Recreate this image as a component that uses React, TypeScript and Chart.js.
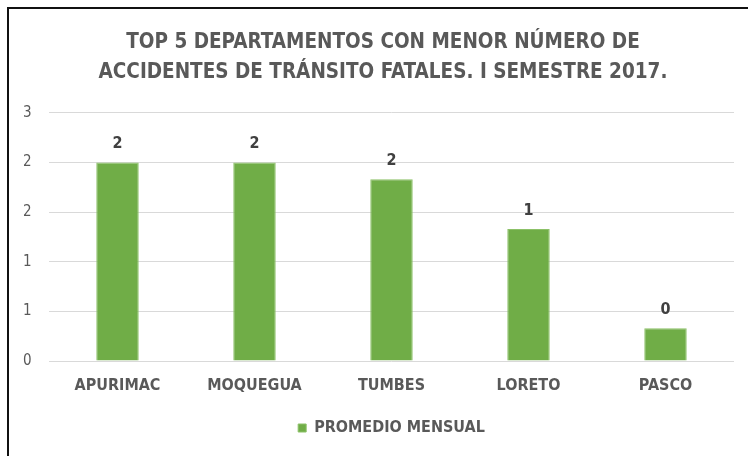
import React, { useEffect, useRef } from "react";
import { Chart, registerables } from "chart.js";

Chart.register(...registerables);

const categories = ["APURIMAC", "MOQUEGUA", "TUMBES", "LORETO", "PASCO"];
const promedioMensual = [2.0, 2.0, 1.83, 1.33, 0.33];
const seriesName = "PROMEDIO MENSUAL";
const titleLines = [
  "TOP 5 DEPARTAMENTOS CON MENOR NÚMERO DE",
  "ACCIDENTES DE TRÁNSITO FATALES. I SEMESTRE 2017.",
];

const FONT = "'Liberation Sans Narrow', 'DejaVu Sans Condensed', 'Liberation Sans', sans-serif";
const GRAY = "#595959";

const frame = {
  id: "frame",
  beforeDraw(chart: any) {
    const ctx = chart.ctx;
    ctx.save();
    ctx.fillStyle = "#ffffff";
    ctx.fillRect(0, 0, chart.width, chart.height);
    ctx.fillStyle = "#111111";
    ctx.fillRect(7, 7, 2, chart.height - 7);
    ctx.fillRect(7, 7, chart.width - 7, 2);
    ctx.restore();
  },
};

const legendShift = {
  id: "legendShift",
  afterLayout(chart: any) {
    const lg = chart.legend;
    if (lg) {
      const ca = chart.chartArea;
      const shift = (ca.left + ca.right) / 2 - (lg.left + lg.right) / 2;
      lg.left += shift;
      lg.right += shift;
    }
  },
};

const valueLabels = {
  id: "valueLabels",
  afterDatasetsDraw(chart: any) {
    const ctx = chart.ctx;
    const meta = chart.getDatasetMeta(0);
    const data = chart.data.datasets[0].data as number[];
    ctx.save();
    ctx.font = `bold 16px ${FONT}`;
    ctx.fillStyle = "#404040";
    ctx.textAlign = "center";
    ctx.textBaseline = "alphabetic";
    meta.data.forEach((bar: any, i: number) => {
      ctx.fillText(String(Math.round(data[i])), bar.x, bar.y - 14);
    });
    ctx.restore();
  },
};

export default function App() {
  const ref = useRef<HTMLCanvasElement | null>(null);
  useEffect(() => {
    if (!ref.current) return;
    const chart = new Chart(ref.current, {
      type: "bar",
      data: {
        labels: categories,
        datasets: [
          {
            label: seriesName,
            data: promedioMensual,
            backgroundColor: "#70AD47",
            borderColor: "#8CC168",
            borderWidth: 1,
            categoryPercentage: 1,
            barPercentage: 0.31,
          },
        ],
      },
      options: {
        responsive: false,
        animation: false,
        devicePixelRatio: 1,
        layout: { padding: { left: 32, right: 14, top: 8, bottom: 10 } },
        plugins: {
          title: {
            display: true,
            text: titleLines,
            color: GRAY,
            font: { family: FONT, size: 20.5, weight: "bold", lineHeight: 1.46 },
            padding: { top: 20, bottom: 25 },
          },
          legend: {
            display: true,
            position: "bottom",
            labels: {
              color: GRAY,
              font: { family: FONT, size: 16, weight: "bold" },
              boxWidth: 8,
              boxHeight: 8,
              padding: 10,
            },
          },
          tooltip: { enabled: false },
        },
        scales: {
          x: {
            grid: { display: false },
            border: { display: false },
            ticks: {
              color: GRAY,
              font: { family: FONT, size: 16, weight: "bold" },
              padding: 7,
            },
            afterFit(scale: any) {
              scale.height = 49;
            },
          },
          y: {
            min: 0,
            max: 2.5,
            grid: { color: "#D9D9D9", drawTicks: false },
            border: { display: false },
            ticks: {
              stepSize: 0.5,
              color: GRAY,
              font: { family: FONT, size: 15 },
              mirror: true,
              crossAlign: "far",
              padding: -26,
              callback: (v: any) => String(Math.round(Number(v))),
            },
            afterFit(scale: any) {
              scale.width = 17;
            },
          },
        },
      },
      plugins: [frame, legendShift, valueLabels],
    });
    return () => chart.destroy();
  }, []);
  return (
    <div style={{ position: "fixed", left: 0, top: 0, width: 748, height: 456 }}>
      <canvas ref={ref} width={748} height={456} style={{ display: "block" }} />
    </div>
  );
}
